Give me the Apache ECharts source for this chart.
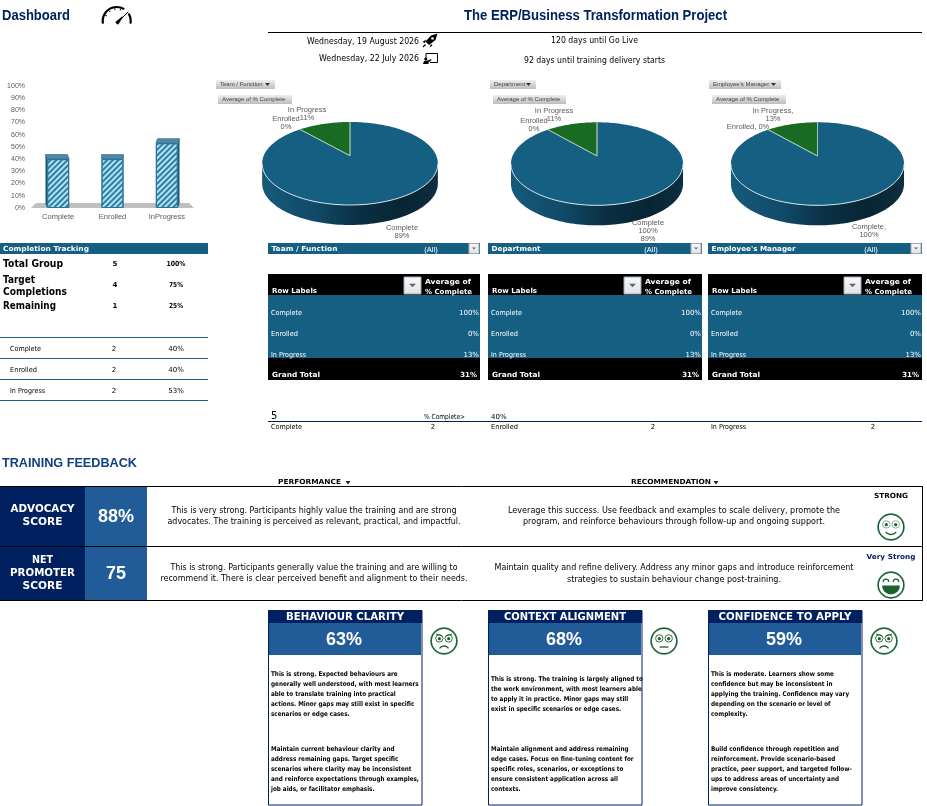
<!DOCTYPE html>
<html><head><meta charset="utf-8">
<style>html,body{margin:0;padding:0;background:#fff}#c{width:927px;height:806px}</style>
<script src="https://cdn.jsdelivr.net/npm/echarts@6/dist/echarts.min.js"></script>
</head><body><div id="c"></div>
<script>
// ---------- DATA ----------
const barCategories = ['Complete', 'Enrolled', 'InProgress'];
const barValues = [40, 40, 53];
const pieNames = ['Complete', 'Enrolled', 'In Progress'];
const pieValues = [100, 0, 13];
const pieLabelText = [
  [['In Progress', '11%'], ['Enrolled', '0%'], ['Complete', '89%']],
  [['In Progress', '11%'], ['Enrolled', '0%'], ['Complete', '100%', '89%']],
  [['In Progress,', '13%'], ['Enrolled, 0%'], ['Complete,', '100%']]
];
const slicerNames = ['Team / Function', 'Department', "Employee's Manager"];
const measureName = 'Average of % Complete';
const trackingRows = [['Total Group', '5', '100%'], ['Remaining', '1', '25%']];
const targetRow = [['Target', 'Completions'], '4', '75%'];
const statusRows = [['Complete', '2', '40%'], ['Enrolled', '2', '40%'], ['In Progress', '2', '53%']];
const pivotLabels = ['Complete', 'Enrolled', 'In Progress'];
const pivotValues = ['100%', '0%', '13%'];
const pivotTotal = '31%';
const scoreRows = [
  { name: ['ADVOCACY', 'SCORE'], value: '88%', verdict: 'STRONG',
    perf: ['This is very strong. Participants highly value the training and are strong', 'advocates. The training is perceived as relevant, practical, and impactful.'],
    rec: ['Leverage this success. Use feedback and examples to scale delivery, promote the', 'program, and reinforce behaviours through follow-up and ongoing support.'] },
  { name: ['NET', 'PROMOTER', 'SCORE'], value: '75', verdict: 'Very Strong',
    perf: ['This is strong. Participants generally value the training and are willing to', 'recommend it. There is clear perceived benefit and alignment to their needs.'],
    rec: ['Maintain quality and refine delivery. Address any minor gaps and introduce reinforcement', 'strategies to sustain behaviour change post-training.'] }
];
const cardData = [
  { title: 'BEHAVIOUR CLARITY', value: '63%', face: 'frown',
    a: ['This is strong. Expected behaviours are', 'generally well understood, with most learners', 'able to translate training into practical', 'actions. Minor gaps may still exist in specific', 'scenarios or edge cases.'],
    b: ['Maintain current behaviour clarity and', 'address remaining gaps. Target specific', 'scenarios where clarity may be inconsistent', 'and reinforce expectations through examples,', 'job aids, or facilitator emphasis.'] },
  { title: 'CONTEXT ALIGNMENT', value: '68%', face: 'flat',
    a: ['This is strong. The training is largely aligned to', 'the work environment, with most learners able', 'to apply it in practice. Minor gaps may still', 'exist in specific scenarios or edge cases.'],
    b: ['Maintain alignment and address remaining', 'edge cases. Focus on fine-tuning content for', 'specific roles, scenarios, or exceptions to', 'ensure consistent application across all', 'contexts.'] },
  { title: 'CONFIDENCE TO APPLY', value: '59%', face: 'frown',
    a: ['This is moderate. Learners show some', 'confidence but may be inconsistent in', 'applying the training. Confidence may vary', 'depending on the scenario or level of', 'complexity.'],
    b: ['Build confidence through repetition and', 'reinforcement. Provide scenario-based', 'practice, peer support, and targeted follow-', 'ups to address areas of uncertainty and', 'improve consistency.'] }
];

// ---------- STYLE / LAYOUT ----------
const NAVY = '#002060', TEAL = '#156082', GREEN = '#196B24', MID = '#215C98', GREY = '#595959';
const SANS = '"Liberation Sans",Arial,sans-serif', DV = '"DejaVu Sans",sans-serif';
const mctx = document.createElement('canvas').getContext('2d');
const g = [];
function T(s, x, y, o) {
  o = o || {};
  const font = (o.b ? 'bold ' : '') + (o.s || 8) + 'px ' + (o.f || DV);
  let sx = 1;
  if (o.w) { mctx.font = font; sx = o.w / mctx.measureText(s).width; }
  if (o.sx) sx = o.sx;
  g.push({ type: 'text', x: x, y: y, scaleX: sx, z: o.z || 20, silent: true,
    style: { text: s, font: font, fill: o.c || '#000', align: o.a || 'left', verticalAlign: 'middle' } });
}
function R(x, y, w, h, fill, stroke, z) {
  g.push({ type: 'rect', z: z || 5, silent: true, shape: { x: x, y: y, width: w, height: h },
    style: { fill: fill, stroke: stroke || null, lineWidth: stroke ? 1 : 0 } });
}
function L(x1, y1, x2, y2, c, lw, z) {
  g.push({ type: 'line', z: z || 6, silent: true, shape: { x1: x1, y1: y1, x2: x2, y2: y2 },
    style: { stroke: c, lineWidth: lw || 1 } });
}
function P(pts, fill, stroke, lw) {
  g.push({ type: 'polygon', z: 21, silent: true, shape: { points: pts },
    style: { fill: fill, stroke: stroke || null, lineWidth: lw || 0 } });
}
function C(cx, cy, r, fill, stroke, lw) {
  g.push({ type: 'circle', z: 21, silent: true, shape: { cx: cx, cy: cy, r: r },
    style: { fill: fill, stroke: stroke || null, lineWidth: lw || 0 } });
}
function A(cx, cy, r, a0, a1, stroke, lw, cw) {
  g.push({ type: 'arc', z: 22, silent: true, shape: { cx: cx, cy: cy, r: r, startAngle: a0, endAngle: a1, clockwise: cw !== false },
    style: { stroke: stroke, lineWidth: lw, fill: null } });
}
const btnGrad = () => new echarts.graphic.LinearGradient(0, 0, 0, 1, [{ offset: 0, color: '#efefef' }, { offset: 1, color: '#bdbdbd' }]);

// header
T('Dashboard', 2, 16, { b: 1, s: 14, f: SANS, c: NAVY, w: 68 });
T('The ERP/Business Transformation Project', 464, 16, { b: 1, s: 14, f: SANS, c: NAVY, w: 263 });
L(268, 32.5, 922, 32.5, '#000', 1);
T('Wednesday, 19 August 2026', 419, 41.5, { a: 'right', s: 9, w: 112 });
T('Wednesday, 22 July 2026', 419, 59, { a: 'right', s: 9, w: 100 });
T('120 days until Go Live', 594.5, 41, { a: 'center', s: 9, w: 87 });
T('92 days until training delivery starts', 594.5, 61, { a: 'center', s: 9, w: 141 });
// gauge icon
A(116.7, 21, 14, Math.PI * 0.94, Math.PI * 1.68, '#000', 2.2);
A(116.7, 21, 14, Math.PI * 1.82, Math.PI * 2.06, '#000', 2.2);
[1.15, 1.3, 1.45, 1.6].forEach(t => L(116.7 + 11 * Math.cos(Math.PI * t), 21 + 11 * Math.sin(Math.PI * t), 116.7 + 13 * Math.cos(Math.PI * t), 21 + 13 * Math.sin(Math.PI * t), '#000', 1, 22));
L(116.7, 23.4, 128.3, 11.7, '#000', 1, 22);
P([[115.2, 22.3], [118.2, 24.8], [123, 17], [122, 16.5]], '#000');
// rocket icon
P([[437.5, 33.5], [431, 35.5], [425.5, 41.5], [429, 45], [435.5, 40]], '#000');
P([[426, 39.5], [422.5, 42], [425, 43]], '#000');
P([[431, 44], [429.5, 47.5], [432.5, 45.5]], '#000');
L(425.5, 44.5, 423, 47, '#000', 1.2, 22);
C(432.5, 38.5, 1.3, '#fff');
// presentation icon
g.push({ type: 'polyline', z: 22, silent: true, shape: { points: [[426, 58], [426, 53.5], [437.5, 53.5], [437.5, 62.5], [430, 62.5]] }, style: { stroke: '#000', lineWidth: 1, fill: null } });
C(425.8, 59, 1.6, '#000');
P([[423, 64], [424, 61], [428, 60.5], [431, 59], [431.5, 60], [428.5, 62.5], [428.5, 64]], '#000');

// pivot-chart field buttons
[[216, 59, 490, 46, 709, 72], [218, 74, 493, 73, 712, 74]];
[[216, 59], [490, 46], [709, 72]].forEach((b, i) => {
  R(b[0], 80, b[1], 9, btnGrad());
  T(slicerNames[i], b[0] + 4, 84.5, { s: 6, f: SANS, c: '#404040' });
  P([[b[0] + b[1] - 10, 83], [b[0] + b[1] - 5, 83], [b[0] + b[1] - 7.5, 86]], '#333');
});
[[218, 74], [493, 73], [712, 74]].forEach(b => {
  R(b[0], 95, b[1], 9, btnGrad());
  T(measureName, b[0] + 4, 99.5, { s: 6, f: SANS, c: '#404040' });
});

// pie labels
const pieLabelAnchors = [
  [[307, 110], [286, 119], [402, 228]],
  [[554, 111], [534, 121], [648, 223]],
  [[773, 111], [748, 127], [869, 227]]
];
pieLabelText.forEach((labels, i) => labels.forEach((lines, j) => lines.forEach((t, k) => {
  T(t, pieLabelAnchors[i][j][0], pieLabelAnchors[i][j][1] + k * 8, { a: 'center', s: 7.5, f: SANS, c: GREY });
})));

// teal slicer bars
function dropBtn(x, y, w, h, big) {
  R(x, y, w, h, new echarts.graphic.LinearGradient(0, 0, 0, 1, [{ offset: 0, color: '#f6f8fb' }, { offset: 1, color: '#dfe3e8' }]), '#a8a8a8', 15);
  const cx = x + w / 2, cy = y + h / 2, d = big ? 3.5 : 2;
  P([[cx - d, cy - d / 2], [cx + d, cy - d / 2], [cx, cy + d / 2]], '#666');
}
R(0, 243, 208, 11, TEAL);
T('Completion Tracking', 3, 249.5, { b: 1, s: 7, c: '#fff', w: 86 });
[[268, 212, 431], [488, 214, 651], [708, 214, 871]].forEach((b, i) => {
  R(b[0], 243, b[1], 11, TEAL);
  T(slicerNames[i], b[0] + 3.5, 249.5, { b: 1, s: 7, c: '#fff', w: [66, 49, 84][i] });
  T('(All)', b[2], 249.5, { a: 'center', s: 7.5, f: SANS, c: '#fff' });
  dropBtn(b[0] + b[1] - 11, 243.5, 10, 10);
});

// completion tracking block
T(trackingRows[0][0], 3, 264, { b: 1, s: 10, w: 60 });
T(trackingRows[0][1], 115, 264, { a: 'center', b: 1, s: 7 });
T(trackingRows[0][2], 176, 264, { a: 'center', b: 1, s: 7, w: 19 });
T(targetRow[0][0], 3, 280, { b: 1, s: 10, w: 32 });
T(targetRow[0][1], 3, 292, { b: 1, s: 10, w: 64 });
T(targetRow[1], 115, 285, { a: 'center', b: 1, s: 7 });
T(targetRow[2], 176, 285, { a: 'center', b: 1, s: 7, w: 14 });
T(trackingRows[1][0], 3, 306, { b: 1, s: 10, w: 53 });
T(trackingRows[1][1], 115, 306, { a: 'center', b: 1, s: 7 });
T(trackingRows[1][2], 176, 306, { a: 'center', b: 1, s: 7, w: 14 });
[337.5, 358.5, 379.5, 400.5].forEach(y => L(0, y, 208, y, '#1F5C99', 1));
statusRows.forEach((r, i) => {
  const y = 348.7 + i * 21;
  T(r[0], 10, y, { s: 7, w: [31, 27, 35][i] });
  T(r[1], 114, y, { a: 'center', s: 7 });
  T(r[2], 176, y, { a: 'center', s: 7 });
});

// pivot tables
[[268, 212], [488, 214], [708, 214]].forEach((b, i) => {
  const x = b[0], off = [0, 220, 440][i], r = x + b[1];
  R(x, 274, b[1], 21, '#000');
  R(x, 295, b[1], 63, TEAL);
  R(x, 358, b[1], 22, '#000');
  T('Row Labels', x + 4, 291, { b: 1, s: 7, c: '#fff', w: 45 });
  dropBtn(404 + off, 277, 17, 17, true);
  T('Average of', 425 + off, 282, { b: 1, s: 7, c: '#fff', w: 46 });
  T('% Complete', 425 + off, 292, { b: 1, s: 7, c: '#fff', w: 47 });
  pivotLabels.forEach((t, k) => {
    T(t, x + 3, 313 + k * 21, { s: 7, c: '#fff', w: [31, 27, 35][k] });
    T(pivotValues[k], r - 1, 313 + k * 21, { a: 'right', s: 7, c: '#fff' });
  });
  T('Grand Total', x + 4, 375, { b: 1, s: 7, c: '#fff', w: 48 });
  T(pivotTotal, r - 3, 375, { a: 'right', b: 1, s: 7, c: '#fff' });
});
T('5', 271, 416.5, { s: 10 });
T('% Complete>', 424, 417, { s: 7, w: 41 });
T('40%', 491, 417, { s: 7 });
L(268, 421.5, 922, 421.5, NAVY, 1);
statusRows.forEach((r, i) => {
  const off = i * 220;
  T(r[0], 271 + off - (i ? 0 : 0), 427.5, { s: 7, w: [31, 27, 35][i] });
  T(r[1], 433 + off, 427.5, { a: 'center', s: 7 });
});

// training feedback
T('TRAINING FEEDBACK', 2, 464, { b: 1, s: 12, f: SANS, c: '#123F7F', w: 135 });
T('PERFORMANCE', 278, 482.3, { b: 1, s: 7, w: 63 });
P([[345.5, 481], [350.5, 481], [348, 484.5]], '#222');
T('RECOMMENDATION', 631, 482.5, { b: 1, s: 7, w: 80 });
P([[713.5, 481], [718.5, 481], [716, 484.5]], '#222');
[486.5, 546.5, 600.5].forEach(y => L(0, y, 923, y, '#000', 1, 8));
L(922.5, 486, 922.5, 601, '#000', 1, 8);
const rowBox = [[487, 59], [547, 53]];
const nameY = [[509, 522], [560, 573, 586]];
const nameW = [[64, 40], [21, 65, 40]];
const valY = [517, 574], valW = [36, 20];
const perfY = [[511, 522], [568, 578.7]], perfW = [[285, 293], [287, 307]];
const recY = [[510.7, 521.7], [568, 580]], recW = [[332, 302], [359, 214]];
const verdictY = [496, 557], verdictW = [34, 49], verdictC = ['#000', NAVY];
scoreRows.forEach((r, i) => {
  R(0, rowBox[i][0], 85, rowBox[i][1], NAVY);
  R(85, rowBox[i][0], 62, rowBox[i][1], MID);
  r.name.forEach((t, k) => T(t, 42.5, nameY[i][k], { a: 'center', b: 1, s: 10.5, c: '#fff', w: nameW[i][k] }));
  T(r.value, 116, valY[i], { a: 'center', b: 1, s: 18, f: SANS, c: '#fff', w: valW[i] });
  r.perf.forEach((t, k) => T(t, 314, perfY[i][k], { a: 'center', s: 9, w: perfW[i][k] }));
  r.rec.forEach((t, k) => T(t, 674, recY[i][k], { a: 'center', s: 9, w: recW[i][k] }));
  T(r.verdict, 891, verdictY[i], { a: 'center', b: 1, s: 7, c: verdictC[i], w: verdictW[i] });
});
function face(cx, cy, kind) {
  const dg = '#1E5F2E', pi = Math.PI;
  C(cx, cy, 13.6, '#fff', '#8FCFE0', 0.8);
  C(cx, cy, 12.8, '#fff', dg, 1.5);
  if (kind === 'big') {
    A(cx - 5, cy - 3, 2.8, pi, 2 * pi, dg, 1.2);
    A(cx + 5, cy - 3, 2.8, pi, 2 * pi, dg, 1.2);
    g.push({ type: 'sector', z: 22, silent: true, shape: { cx: cx, cy: cy + 0.5, r0: 0, r: 9, startAngle: 0, endAngle: pi }, style: { fill: dg } });
    return;
  }
  [-4.7, 4.7].forEach(d => {
    C(cx + d, cy - 2.6, 3.7, '#fff', kind === 'smile' ? '#7FA58B' : dg, 0.9);
    C(cx + d, cy - 2.3, 1.6, dg);
  });
  if (kind === 'smile') A(cx, cy + 1, 6.5, 0.2 * pi, 0.8 * pi, dg, 1.3);
  if (kind === 'flat') L(cx - 4.5, cy + 6, cx + 4.5, cy + 6, dg, 1.3, 22);
  if (kind === 'frown') {
    A(cx, cy + 10.5, 5.5, 1.2 * pi, 1.8 * pi, dg, 1.3);
    L(cx - 8, cy - 7, cx - 2, cy - 5, dg, 1, 22);
    L(cx + 8, cy - 7, cx + 2, cy - 5, dg, 1, 22);
  }
}
face(891, 527, 'smile');
face(891, 585, 'big');

// cards
const cardX = [268, 488, 708];
const titleW = [118, 122, 133];
const cardParaY = [674, 679, 674];
mctx.font = 'bold 6.5px ' + DV;
const cardSx = 148 / mctx.measureText('and reinforce expectations through examples,').width;
cardData.forEach((c, i) => {
  const x = cardX[i];
  R(x + 0.5, 610.5, 153.5, 194.5, '#fff', NAVY, 4);
  R(x, 610, 154, 13, NAVY);
  R(x + 1, 623, 152, 32, MID);
  T(c.title, x + 77, 617, { a: 'center', b: 1, s: 10.5, c: '#fff', w: titleW[i] });
  T(c.value, x + 76, 640, { a: 'center', b: 1, s: 18, f: SANS, c: '#fff', w: 36 });
  c.a.forEach((t, k) => T(t, x + 3, cardParaY[i] + k * 10, { b: 1, s: 6.5, sx: cardSx }));
  c.b.forEach((t, k) => T(t, x + 3, 749 + k * 10, { b: 1, s: 6.5, sx: cardSx }));
  face(x + 176, 641, c.face);
});

// ---------- 3D pie through a projective view of the unit circle ----------
const pieGeom = [
  { cx: 350, apexY: 155.7, rx: 86.3 }, { cx: 597, apexY: 156, rx: 84.5 }, { cx: 817.5, apexY: 156, rx: 85 }
];
const persp = 0.188, ryK = 40.03, depth = 20;
function project(geo, th) {
  const u = Math.sin(th), v = Math.cos(th), q = 1 + persp * v;
  return [geo.cx + geo.rx * u / q, geo.apexY - ryK * v / q];
}
function arcPts(geo, a0, a1, dy) {
  const n = Math.max(2, Math.ceil((a1 - a0) / 0.03)), pts = [];
  for (let i = 0; i <= n; i++) { const p = project(geo, a0 + (a1 - a0) * i / n); pts.push([p[0], p[1] + (dy || 0)]); }
  return pts;
}
const sideFrom = Math.acos(-persp), sideTo = 2 * Math.PI - sideFrom;
const pieTotal = pieValues.reduce((a, b) => a + b, 0);
function pieSeries(geo) {
  return {
    type: 'custom', coordinateSystem: 'none', z: 3, silent: true,
    data: pieNames.map((n, i) => ({ name: n, value: [pieValues[i], pieValues.slice(0, i).reduce((a, b) => a + b, 0)] })),
    renderItem: function (params, api) {
      const val = api.value(0), before = api.value(1);
      if (!val) return { type: 'group', children: [] };
      const a0 = before / pieTotal * 2 * Math.PI, a1 = (before + val) / pieTotal * 2 * Math.PI;
      const kids = [];
      const s0 = Math.max(a0, sideFrom), s1 = Math.min(a1, sideTo);
      if (s1 > s0) {
        const top = arcPts(geo, s0, s1, 0), bot = arcPts(geo, s0, s1, depth).reverse();
        kids.push({ type: 'polygon', z2: 1, shape: { points: top.concat(bot) }, style: { fill: new echarts.graphic.LinearGradient(0, 0, 1, 0, [
          { offset: 0, color: '#155A7A' }, { offset: 0.3, color: '#114A68' }, { offset: 0.55, color: '#0B2F44' },
          { offset: 0.8, color: '#082533' }, { offset: 1, color: '#0D2F40' }]) } });
      }
      const color = params.dataIndex === 0 ? TEAL : params.dataIndex === 2 ? GREEN : '#E97132';
      const apex = [geo.cx, geo.apexY];
      kids.push({ type: 'polygon', z2: 2, shape: { points: [apex].concat(arcPts(geo, a0, a1, 0)) }, style: { fill: color } });
      if (s1 > s0) kids.push({ type: 'polyline', z2: 3, shape: { points: arcPts(geo, s0, s1, 0) }, style: { stroke: '#D5E3EA', lineWidth: 1, fill: null } });
      kids.push({ type: 'polyline', z2: 3, shape: { points: [project(geo, a0), apex, project(geo, a1)] }, style: { stroke: '#A9C8B5', lineWidth: 0.8, fill: null } });
      return { type: 'group', children: kids };
    }
  };
}

// ---------- OPTION ----------
const chart = echarts.init(document.getElementById('c'), null, { width: 927, height: 806 });
const gridBox = { left: 31, width: 163, top: 85.7, height: 122.3 };
chart.setOption({
  animation: false,
  backgroundColor: '#fff',
  grid: gridBox,
  xAxis: { type: 'category', data: barCategories, axisLine: { show: false }, axisTick: { show: false },
    axisLabel: { color: GREY, fontSize: 7.5, fontFamily: SANS, margin: 5, interval: 0 } },
  yAxis: { type: 'value', min: 0, max: 100, interval: 10, axisLine: { show: false }, axisTick: { show: false }, splitLine: { show: false },
    axisLabel: { color: GREY, fontSize: 7, fontFamily: SANS, margin: 6, formatter: '{value}%' } },
  series: [
    { type: 'custom', coordinateSystem: 'cartesian2d', z: 1, silent: true, data: barCategories.map(() => 0),
      renderItem: function (params, api) {
        if (params.dataIndex !== 0) return { type: 'group', children: [] };
        const a = api.coord([0, 0]), b = api.size([1, 0]);
        const x0 = gridBox.left, x1 = gridBox.left + gridBox.width, y = a[1];
        return { type: 'polygon', shape: { points: [[x0, y], [x1, y], [x1 - 5, y - 5], [x0 + 5, y - 5]] }, style: { fill: '#BFBFBF' } };
      } },
    { type: 'custom', coordinateSystem: 'cartesian2d', z: 2, silent: true,
      data: barValues.map((v, i) => [i, v]),
      renderItem: function (params, api) {
        const i = api.value(0), p = api.coord([i, api.value(1)]), base = api.coord([i, 0]);
        const hw = 11, d = 4.5, dx = (i - 1) * 1.7;
        const l = p[0] - hw, r = p[0] + hw, t = p[1], b = base[1];
        const kids = [
          { type: 'polygon', shape: { points: [[l, t], [r, t], [r + dx, t - d], [l + dx, t - d]] }, style: { fill: '#4F88A4', stroke: '#2A6E8E', lineWidth: 0.7 } }
        ];
        if (dx > 0) kids.push({ type: 'polygon', shape: { points: [[r, t], [r + dx, t - d], [r + dx, b - d], [r, b]] }, style: { fill: '#1C5D7C' } });
        if (dx < 0) kids.push({ type: 'polygon', shape: { points: [[l, t], [l + dx, t - d], [l + dx, b - d], [l, b]] }, style: { fill: '#1C5D7C' } });
        return { type: 'group', children: kids };
      } },
    { type: 'bar', data: barValues, barWidth: 22, z: 3, silent: true,
      itemStyle: { color: '#B4E2F3', borderColor: '#2A7595', borderWidth: 1,
        decal: { symbol: 'rect', symbolSize: 1, dashArrayX: [1, 0], dashArrayY: [1.4, 1.8], rotation: -Math.PI / 4, color: '#2C7FA3' } } }
  ].concat(pieGeom.map(pieSeries)),
  graphic: { elements: g }
});
</script></body></html>
